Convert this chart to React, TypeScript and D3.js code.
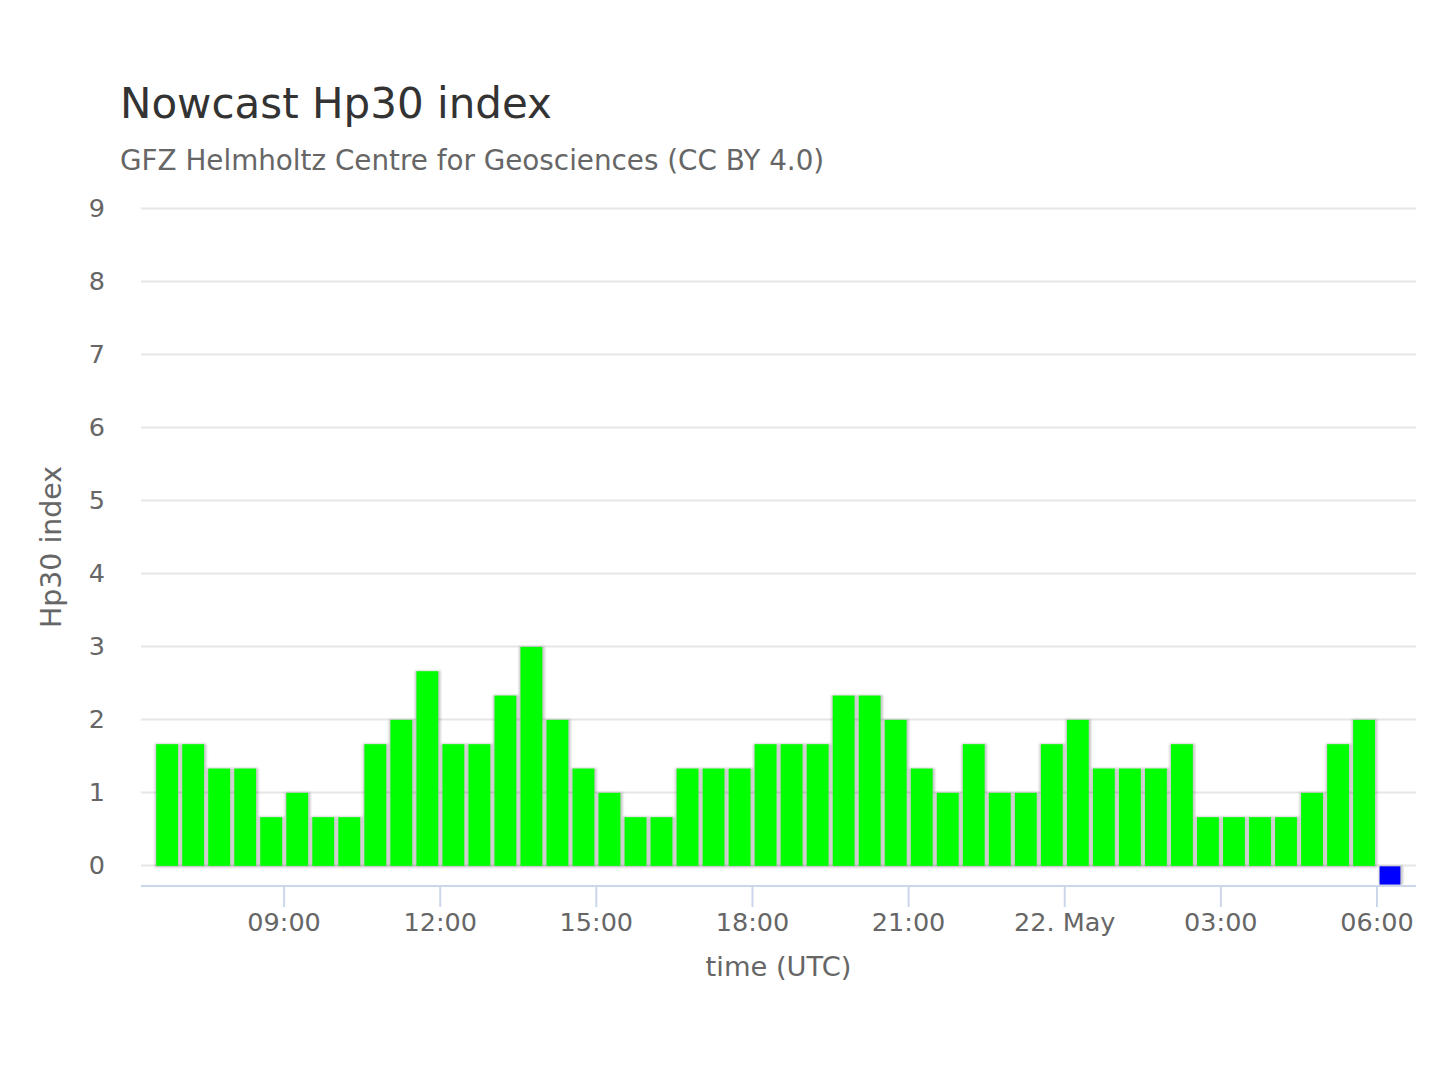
import React from "react";
import * as d3 from "d3";

// ---- data ----
const seriesStart = "2023-05-21T06:30:00Z"; // start of first 30-min interval
const hp30Values: number[] = [
  1.667, 1.667, 1.333, 1.333, 0.667, 1, 0.667, 0.667, 1.667, 2, 2.667, 1.667,
  1.667, 2.333, 3, 2, 1.333, 1, 0.667, 0.667, 1.333, 1.333, 1.333, 1.667,
  1.667, 1.667, 2.333, 2.333, 2, 1.333, 1, 1.667, 1, 1, 1.667, 2,
  1.333, 1.333, 1.333, 1.667, 0.667, 0.667, 0.667, 0.667, 1, 1.667, 2,
];
const nowcastStart = "2023-05-22T06:00:00Z";
const nowcastValues: number[] = [-0.27];
const yTicks: number[] = [0, 1, 2, 3, 4, 5, 6, 7, 8, 9];
const xDomain: string[] = ["2023-05-21T06:15:00Z", "2023-05-22T06:45:00Z"];
const yDomain: number[] = [-0.29, 9];

const titleText = "Nowcast Hp30 index";
const subtitleText = "GFZ Helmholtz Centre for Geosciences (CC BY 4.0)";
const yTitle = "Hp30 index";
const xTitle = "time (UTC)";

const W = 1440;
const H = 1080;
const plot = { left: 141, right: 1416, top: 208, bottom: 886 };
const FONT = "'DejaVu Sans', sans-serif";
const HALF_HOUR = 30 * 60 * 1000;

export default function App() {
  const x = d3
    .scaleUtc()
    .domain(xDomain.map((d) => new Date(d)))
    .range([plot.left, plot.right]);
  const y = d3.scaleLinear().domain(yDomain).range([plot.bottom, plot.top]);

  const t0 = new Date(seriesStart).getTime();
  const bars = hp30Values.map((v, i) => ({
    start: new Date(t0 + i * HALF_HOUR),
    end: new Date(t0 + (i + 1) * HALF_HOUR),
    v,
  }));
  const n0 = new Date(nowcastStart).getTime();
  const nowBars = nowcastValues.map((v, i) => ({
    start: new Date(n0 + i * HALF_HOUR),
    end: new Date(n0 + (i + 1) * HALF_HOUR),
    v,
  }));

  const xTicks = x.ticks(d3.utcHour.every(3)!);
  const fmtTick = (d: Date) =>
    d.getUTCHours() === 0 && d.getUTCMinutes() === 0
      ? d3.utcFormat("%d. %b")(d)
      : d3.utcFormat("%H:%M")(d);

  const shadowRect = (x0: number, x1: number, top: number, bot: number, key: string) => (
    <rect
      key={key}
      x={x0}
      y={top - 0.5}
      width={x1 - x0}
      height={bot - top + 3}
      fill="#000"
      fillOpacity={0.22}
    />
  );

  return (
    <svg
      width={W}
      height={H}
      style={{ position: "absolute", left: 0, top: 0, background: "#fff" }}
      fontFamily={FONT}
    >
      <defs>
        <filter id="blur" x="-20%" y="-20%" width="140%" height="140%">
          <feGaussianBlur stdDeviation="0.9" />
        </filter>
      </defs>
      <rect x={0} y={0} width={W} height={H} fill="#fff" />
      <text x={120} y={118} fontSize={42} fill="#333333">
        {titleText}
      </text>
      <text x={120} y={170} fontSize={27.8} fill="#666666">
        {subtitleText}
      </text>

      {/* grid */}
      {yTicks.map((t) => (
        <line
          key={"g" + t}
          x1={plot.left}
          x2={plot.right}
          y1={Math.round(y(t)) + 0.5}
          y2={Math.round(y(t)) + 0.5}
          stroke="#e6e6e6"
          strokeWidth={2}
        />
      ))}
      {yTicks.map((t) => (
        <text
          key={"yl" + t}
          x={105}
          y={y(t) + 9}
          fontSize={25.5}
          fill="#666666"
          textAnchor="end"
        >
          {t}
        </text>
      ))}

      {/* bar shadows */}
      <g filter="url(#blur)">
        {bars.map((b, i) => {
          const x0 = x(b.start);
          const x1 = x(b.end);
          return shadowRect(
            x0 + 0.8,
            x1 + 0.3,
            y(Math.max(b.v, 0)) + 1,
            y(Math.min(b.v, 0)),
            "s" + i
          );
        })}
        {nowBars.map((b, i) => {
          const x0 = x(b.start);
          const x1 = x(b.end);
          const w = (x1 - x0) * 0.84;
          const cx = (x0 + x1) / 2;
          return shadowRect(
            cx - w / 2,
            cx + w / 2 + 2,
            y(Math.max(b.v, 0)) + 1.5,
            y(Math.min(b.v, 0)) - 2,
            "ns" + i
          );
        })}
      </g>

      {/* bars */}
      {bars.map((b, i) => {
        const x0 = x(b.start);
        const x1 = x(b.end);
        const top = y(Math.max(b.v, 0)) + 1;
        const bot = y(Math.min(b.v, 0)) + 1;
        return (
          <rect
            key={"b" + i}
            x={x0 + 2.2}
            y={top}
            width={x1 - x0 - 4.2}
            height={bot - top}
            fill="#00ff00"
          />
        );
      })}
      {nowBars.map((b, i) => {
        const x0 = x(b.start);
        const x1 = x(b.end);
        const w = (x1 - x0) * 0.8;
        const cx = (x0 + x1) / 2;
        const top = y(Math.max(b.v, 0)) + 1.5;
        const bot = y(Math.min(b.v, 0));
        return (
          <rect
            key={"n" + i}
            x={cx - w / 2}
            y={top}
            width={w}
            height={bot - top}
            fill="#0000ff"
          />
        );
      })}

      {/* x axis */}
      <line
        x1={plot.left}
        x2={plot.right}
        y1={plot.bottom}
        y2={plot.bottom}
        stroke="#ccd6eb"
        strokeWidth={2}
      />
      {xTicks.map((t, i) => (
        <g key={"xt" + i}>
          <line
            x1={x(t)}
            x2={x(t)}
            y1={plot.bottom}
            y2={plot.bottom + 21}
            stroke="#ccd6eb"
            strokeWidth={2}
          />
          <text
            x={x(t)}
            y={931}
            fontSize={25.5}
            fill="#666666"
            textAnchor="middle"
          >
            {fmtTick(t)}
          </text>
        </g>
      ))}

      <text
        x={(plot.left + plot.right) / 2}
        y={976}
        fontSize={27.3}
        fill="#666666"
        textAnchor="middle"
      >
        {xTitle}
      </text>
      <text
        transform={`translate(61,${(plot.top + plot.bottom) / 2}) rotate(-90)`}
        fontSize={28.4}
        fill="#666666"
        textAnchor="middle"
      >
        {yTitle}
      </text>
    </svg>
  );
}
